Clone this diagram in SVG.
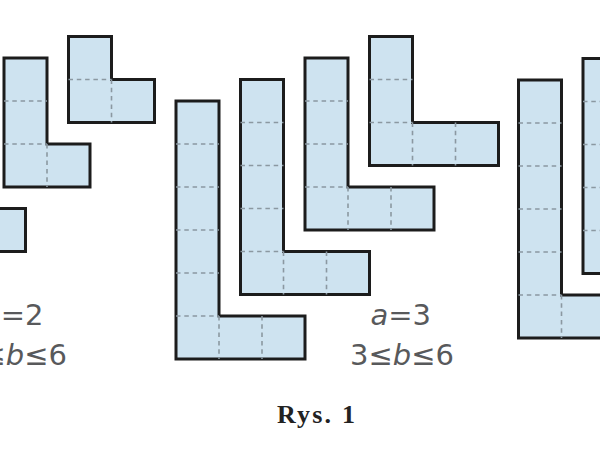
<svg xmlns="http://www.w3.org/2000/svg" width="600" height="450" viewBox="0 0 600 450">
<style>
.sh{fill:#cee3f0;stroke:#1c1c1c;stroke-width:3;stroke-linejoin:miter}
.dg{stroke:#8b98a1;stroke-width:1.6;stroke-dasharray:4.5 3.8;fill:none}
.lbl{font-family:"DejaVu Sans",sans-serif;font-size:29px;fill:#58595b}
.it{font-style:italic}
.cap{font-family:"Liberation Serif",serif;font-weight:bold;font-size:26px;fill:#222}
</style>
<rect width="600" height="450" fill="#fff"/>
<!-- a=2 group -->
<g id="a2b4">
<path class="sh" d="M-60.5,79.5H-17.5V208.5H25.5V251.5H-60.5Z"/>
<path class="dg" d="M-60.5,122.5H-17.5M-60.5,165.5H-17.5M-60.5,208.5H-17.5M-17.5,208.5V251.5"/>
</g>
<g id="a2b3">
<path class="sh" d="M4,58H47V144H90V187H4Z"/>
<path class="dg" d="M4,101H47M4,144H47M47,144V187"/>
</g>
<g id="a2b2">
<path class="sh" d="M68.5,36.5H111.5V79.5H154.5V122.5H68.5Z"/>
<path class="dg" d="M68.5,79.5H111.5M111.5,79.5V122.5"/>
</g>
<!-- a=3 group -->
<g id="a3b6">
<path class="sh" d="M176,101H219V316H305V359H176Z"/>
<path class="dg" d="M176,144H219M176,187H219M176,230H219M176,273H219M176,316H219M219,316V359M262,316V359"/>
</g>
<g id="a3b5">
<path class="sh" d="M240.5,79.5H283.5V251.5H369.5V294.5H240.5Z"/>
<path class="dg" d="M240.5,122.5H283.5M240.5,165.5H283.5M240.5,208.5H283.5M240.5,251.5H283.5M283.5,251.5V294.5M326.5,251.5V294.5"/>
</g>
<g id="a3b4">
<path class="sh" d="M305,58H348V187H434V230H305Z"/>
<path class="dg" d="M305,101H348M305,144H348M305,187H348M348,187V230M391,187V230"/>
</g>
<g id="a3b3">
<path class="sh" d="M369.5,36.5H412.5V122.5H498.5V165.5H369.5Z"/>
<path class="dg" d="M369.5,79.5H412.5M369.5,122.5H412.5M412.5,122.5V165.5M455.5,122.5V165.5"/>
</g>
<!-- a=4 group -->
<g id="a4b6">
<path class="sh" d="M518.5,80H561.5V295H690.5V338H518.5Z"/>
<path class="dg" d="M518.5,123H561.5M518.5,166H561.5M518.5,209H561.5M518.5,252H561.5M518.5,295H561.5M561.5,295V338M604.5,295V338"/>
</g>
<g id="a4b5">
<path class="sh" d="M583,58.5H626V230.5H755V273.5H583Z"/>
<path class="dg" d="M583,101.5H626M583,144.5H626M583,187.5H626M583,230.5H626"/>
</g>
<!-- labels -->
<g id="labels">
<text class="lbl" x="43.5" y="325" text-anchor="end"><tspan class="it">a</tspan>=2</text>
<text class="lbl" x="67" y="365" text-anchor="end">2≤<tspan class="it">b</tspan>≤6</text>
<text class="lbl" x="431" y="325" text-anchor="end"><tspan class="it">a</tspan>=3</text>
<text class="lbl" x="454" y="365" text-anchor="end">3≤<tspan class="it">b</tspan>≤6</text>
<text class="cap" x="277" y="423" textLength="78" lengthAdjust="spacing">Rys. 1</text>
</g>
</svg>
